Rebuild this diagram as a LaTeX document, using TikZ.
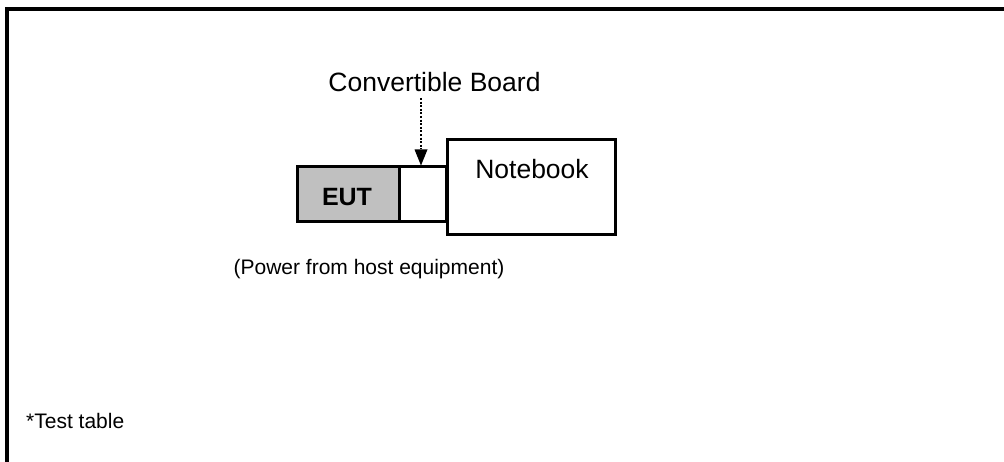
\documentclass[tikz,border=0pt]{standalone}
\usepackage{fontspec}
\setmainfont{Liberation Sans}
\usetikzlibrary{arrows.meta}
\begin{document}
\begin{tikzpicture}[x=1pt,y=-1pt,
  boxstyle/.style={draw=black,line width=3pt,rectangle,inner sep=0pt},
  txt/.style={inner sep=0pt,text=black},
  frame/.style={line width=3.2pt,black},
  pointer/.style={line width=2.4pt,dash pattern=on 2pt off 1.6pt,-{Triangle[width=13pt,length=16pt,line width=0pt,sep=0pt]}}]
\useasboundingbox (0,0) rectangle (1004,462);
\draw[frame] (7,462) -- (7,9) -- (1004,9);
\node[boxstyle,fill={rgb,255:red,192;green,192;blue,192},minimum width=102pt,minimum height=55pt] (eut) at (348,194.5) {};
\node[txt,font=\bfseries\fontsize{25}{29}\selectfont] (eutlbl) at (347,197) {EUT};
\node[boxstyle,fill=white,minimum width=47pt,minimum height=55pt] (board) at (422.5,194.5) {};
\node[boxstyle,fill=white,minimum width=168pt,minimum height=95pt] (nb) at (531,187.5) {};
\node[txt,font=\fontsize{26.5}{30}\selectfont] (nblbl) at (532,169) {Notebook};
\node[txt,font=\fontsize{26.5}{30}\selectfont] (cb) at (434.5,82) {Convertible Board};
\coordinate (ptop) at (421,98);
\draw[pointer] (ptop) -- (ptop |- board.north);
\node[txt,font=\fontsize{21}{25}\selectfont] (power) at (369,269) {(Power from host equipment)};
\node[txt,anchor=west,font=\fontsize{21}{25}\selectfont] (tt) at (26,421) {*Test table};
\end{tikzpicture}
\end{document}
